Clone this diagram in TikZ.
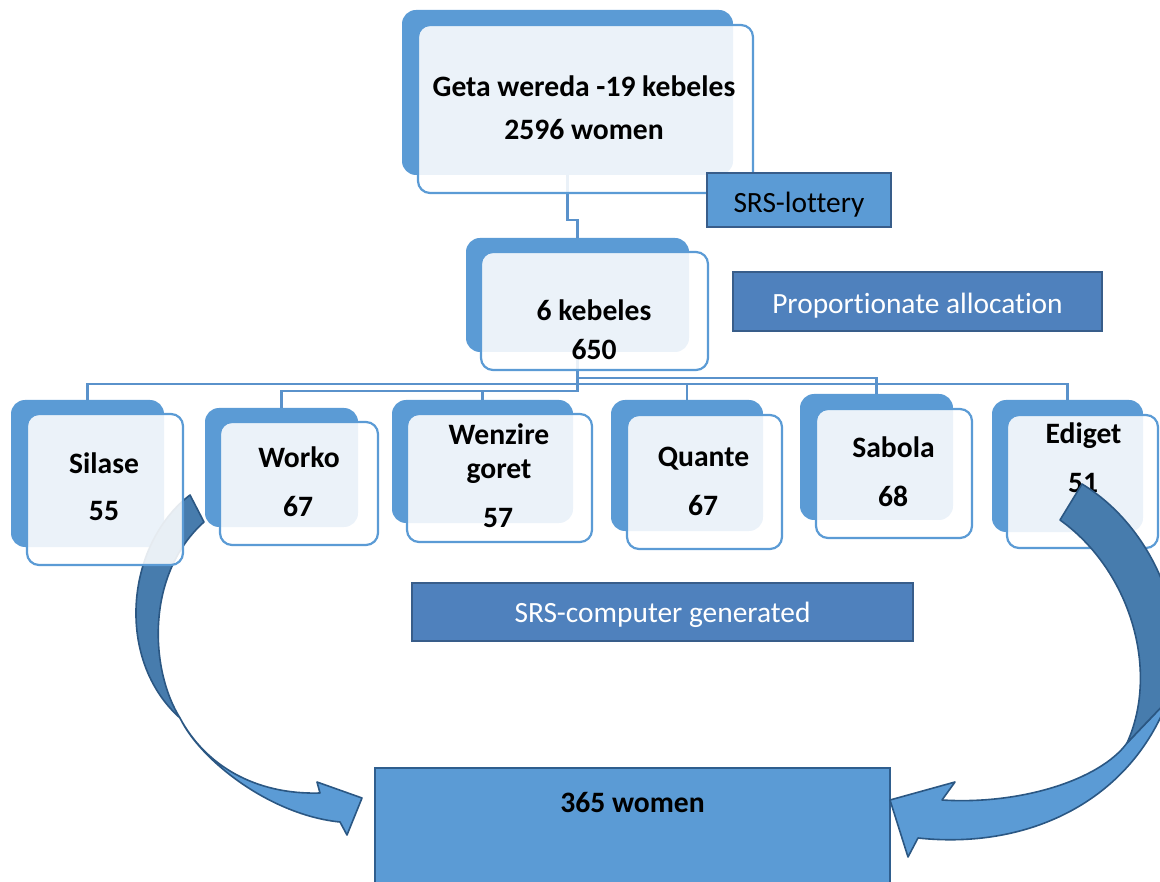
\documentclass[tikz,border=0pt]{standalone}
\usepackage{fontspec}
\setmainfont[Ligatures=NoCommon]{Carlito}
\usetikzlibrary{calc}
\definecolor{backblue}{HTML}{5B9BD5}
\definecolor{boxline}{HTML}{5B9BD5}
\definecolor{accblue}{HTML}{4F81BD}
\definecolor{accline}{HTML}{385D8A}
\definecolor{darkarrow}{HTML}{477CAD}
\definecolor{arrowline}{HTML}{2B5783}
\definecolor{connblue}{HTML}{5A92CB}
\definecolor{resline}{HTML}{2F5E8E}
\begin{document}
\begin{tikzpicture}[x=1pt,y=-1pt,
  backbox/.style={fill=backblue, rounded corners=14pt, inner sep=0pt, outer sep=0pt},
  frontbox/.style={draw=boxline, line width=2.2pt, fill=white, fill opacity=0.88, rounded corners=12pt, inner sep=0pt, outer sep=0pt},
  labelbox/.style={fill=backblue, draw=accline, line width=2.4pt, inner sep=0pt, outer sep=0pt},
  accbox/.style={fill=accblue, draw=accline, line width=2.8pt, inner sep=0pt, outer sep=0pt},
  resbox/.style={fill=backblue, draw=resline, line width=1.8pt, inner sep=0pt, outer sep=0pt},
  connline/.style={draw=connblue, line width=2.6pt},
  boldtxt/.style={font=\fontsize{29.6}{35}\selectfont\bfseries, inner sep=0pt, anchor=base, text=black},
  plaintxt/.style={font=\fontsize{29.4}{35}\selectfont, inner sep=0pt, anchor=base},
  lightarrow/.style={fill=backblue, draw=arrowline, line width=1.6pt, line join=round},
  darkpart/.style={fill=darkarrow, draw=arrowline, line width=1.6pt, line join=round}
]
\useasboundingbox (0,0) rectangle (1160,882);
\clip (0,0) rectangle (1160,882);

% back rectangles
\node[backbox, minimum width=331pt, minimum height=165pt] (topback) at (567.5,92.5) {};
\node[backbox, minimum width=223pt, minimum height=114pt] (kebback) at (577.5,295) {};
\node[backbox, minimum width=153pt, minimum height=147pt] (silback) at (87.5,473.5) {};
\node[backbox, minimum width=153pt, minimum height=119pt] (worback) at (281.5,467.5) {};
\node[backbox, minimum width=181pt, minimum height=123pt] (wenback) at (482.5,461.5) {};
\node[backbox, minimum width=152pt, minimum height=131pt] (quaback) at (687,465.5) {};
\node[backbox, minimum width=153pt, minimum height=126pt] (sabback) at (876.5,457) {};
\node[backbox, minimum width=151pt, minimum height=132pt] (ediback) at (1067.5,466) {};

% connectors
\draw[connline] (topback.south) -- ($(topback.south)+(0,45)$) -| (kebback.north);
\draw[connline] (kebback.south) -- ($(kebback.south)+(0,32)$) -| (silback.north);
\draw[connline] (kebback.south) -- ($(kebback.south)+(0,39)$) -| (worback.north);
\draw[connline] (kebback.south) -- ($(kebback.south)+(0,39)$) -| (wenback.north);
\draw[connline] (kebback.south) -- ($(kebback.south)+(0,32)$) -| (quaback.north);
\draw[connline] (kebback.south) -- ($(kebback.south)+(0,26)$) -| (sabback.north);
\draw[connline] (kebback.south) -- ($(kebback.south)+(0,32)$) -| (ediback.north);

% left curved arrow (partly under the Silase box)
\path[lightarrow] (180,718) .. controls (205,765) and (255,795) .. (320,793)
  -- (317,782) -- (362,798) -- (347,835) -- (340,822)
  .. controls (270,815) and (200,760) .. cycle;
\path[darkpart] (190,495) .. controls (125,545) and (115,660) .. (180,718)
  .. controls (150,670) and (145,575) .. (204,522) -- cycle;

% front boxes
\node[frontbox, minimum width=335pt, minimum height=168pt] (topfront) at (585.5,109) {};
\node[frontbox, minimum width=227pt, minimum height=118pt] (kebfront) at (594.5,311) {};
\node[frontbox, minimum width=156pt, minimum height=151pt] (silfront) at (105,489.5) {};
\node[frontbox, minimum width=158pt, minimum height=123pt] (worfront) at (299,483.5) {};
\node[frontbox, minimum width=185pt, minimum height=128pt] (wenfront) at (499.5,478) {};
\node[frontbox, minimum width=155pt, minimum height=134pt] (quafront) at (704.5,482) {};
\node[frontbox, minimum width=156pt, minimum height=129pt] (sabfront) at (894,473.5) {};
\node[frontbox, minimum width=151pt, minimum height=133pt] (edifront) at (1082.5,481.5) {};

% label boxes
\node[labelbox, minimum width=184pt, minimum height=54pt] (lottery) at (799,200) {};
\node[accbox, minimum width=369pt, minimum height=59pt] (propbox) at (917.5,301.5) {};
\node[accbox, minimum width=501pt, minimum height=58pt] (compbox) at (662.5,612) {};
\node[resbox, minimum width=515pt, minimum height=130pt] (result) at (632.5,833) {};

% texts
\node[boldtxt] (t1) at (584,97) {Geta wereda -19 kebeles};
\node[boldtxt] (t2) at (584,140) {2596 women};
\node[boldtxt] (t3) at (594,321) {6 kebeles};
\node[boldtxt] (t4) at (594,360) {650};
\node[boldtxt] (t5) at (104,474) {Silase};
\node[boldtxt] (t6) at (104,520) {55};
\node[boldtxt] (t7) at (299,468) {Worko};
\node[boldtxt] (t8) at (298,517) {67};
\node[boldtxt] (t9) at (499,445) {Wenzire};
\node[boldtxt] (t10) at (499,479) {goret};
\node[boldtxt] (t11) at (498,528) {57};
\node[boldtxt] (t12) at (703.5,467) {Quante};
\node[boldtxt] (t13) at (703,515) {67};
\node[boldtxt] (t14) at (893.5,458) {Sabola};
\node[boldtxt] (t15) at (893,507) {68};
\node[boldtxt] (t16) at (1083.5,444) {Ediget};
\node[boldtxt] (t17) at (1083,493) {51};
\node[boldtxt] (t18) at (632.5,812) {365 women};
\node[plaintxt, text=black] (t19) at (799,213) {SRS-lottery};
\node[plaintxt, text=white] (t20) at (917.5,314) {Proportionate allocation};
\node[plaintxt, text=white] (t21) at (662.5,622) {SRS-computer generated};

% right curved arrow (over the Ediget box)
\path[lightarrow] (1127,743) .. controls (1100,780) and (1020,805) .. (942,800)
  -- (955,782) -- (890,800) -- (908,857) -- (918,838)
  .. controls (1030,850) and (1130,800) .. (1168,700) -- cycle;
\path[darkpart] (1060,520) -- (1082,484) .. controls (1150,525) and (1195,620) .. (1168,700)
  -- (1127,743) .. controls (1160,670) and (1130,570) .. cycle;
\end{tikzpicture}
\end{document}
